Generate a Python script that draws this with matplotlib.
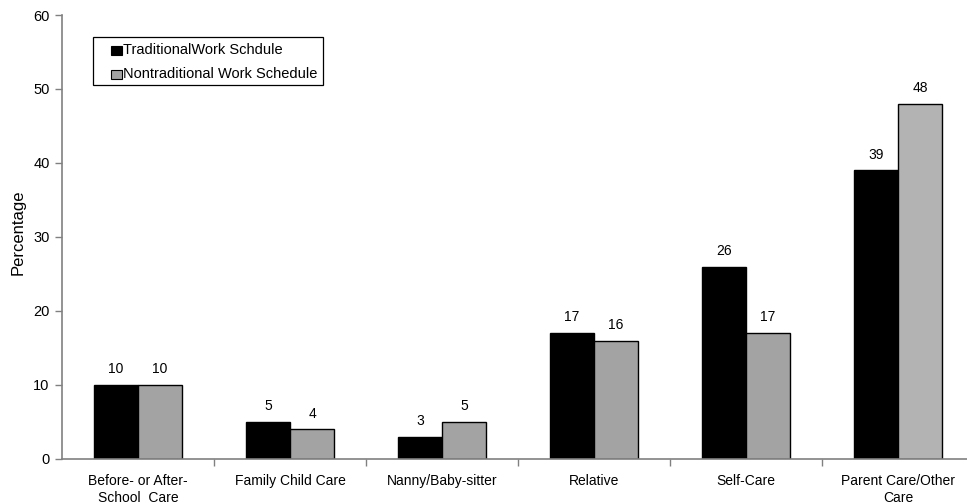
import matplotlib
matplotlib.use("Agg")
import matplotlib.pyplot as plt
import numpy as np
from matplotlib.patches import Rectangle

plt.rcParams['font.family'] = ['Liberation Sans', 'DejaVu Sans']

categories = ["Before- or After-\nSchool  Care", "Family Child Care", "Nanny/Baby-sitter",
              "Relative", "Self-Care", "Parent Care/Other\nCare"]
traditional = [10, 5, 3, 17, 26, 39]
nontraditional = [10, 4, 5, 16, 17, 48]
series_names = ["TraditionalWork Schdule", "Nontraditional Work Schedule"]
y_ticks = [0, 10, 20, 30, 40, 50, 60]

trad_color = "black"
nontrad_colors = ["#a3a3a3"] * 5 + ["#b3b3b3"]

W, H = 967, 504
fig = plt.figure(figsize=(W / 100, H / 100), dpi=100)
ax = fig.add_axes([62 / W, 45 / H, 912 / W, 444 / H])


def fig_xy(px, py):
    """Pixel position measured from the top-left corner -> figure fraction."""
    return px / W, 1 - py / H


x = np.arange(len(categories))
w = 0.29
ax.bar(x - w / 2, traditional, width=w, color=trad_color, edgecolor="black", linewidth=1)
ax.bar(x + w / 2, nontraditional, width=w, color=nontrad_colors, edgecolor="black", linewidth=1)

for xi, v in zip(x - w / 2, traditional):
    ax.text(xi, v + 1.2, str(v), ha="center", va="bottom", fontsize=10)
for xi, v in zip(x + w / 2, nontraditional):
    ax.text(xi, v + 1.2, str(v), ha="center", va="bottom", fontsize=10)

ax.set_xlim(-0.5, len(categories) - 0.5)
ax.set_ylim(0, 60)
ax.set_yticks(y_ticks)
ax.tick_params(axis="y", direction="out", length=5, width=1, color="#808080", labelsize=10.5, pad=4)

ax.set_xticks(x)
ax.set_xticklabels(categories, fontsize=10, linespacing=1.25)
ax.tick_params(axis="x", length=0, pad=11)
ax.set_xticks(np.arange(0.5, len(categories) - 0.5, 1), minor=True)
ax.tick_params(axis="x", which="minor", direction="out", length=5, width=1, color="#808080")

for side in ["top", "right"]:
    ax.spines[side].set_visible(False)
for side in ["left", "bottom"]:
    ax.spines[side].set_color("#808080")
    ax.spines[side].set_linewidth(1.2)

# y-axis title
fig.text(*fig_xy(18, 232), "Percentage", rotation=90, ha="center", va="center", fontsize=12)

# legend box with square swatches
bx0, by0, bx1, by1 = fig_xy(93, 85) + fig_xy(323, 37)
fig.add_artist(Rectangle((bx0, by0), bx1 - bx0, by1 - by0, transform=fig.transFigure,
                         facecolor="white", edgecolor="black", linewidth=0.9))
swatch_colors = [trad_color, nontrad_colors[0]]
row_y = [50.5, 74.5]
for name, col, ry in zip(series_names, swatch_colors, row_y):
    sx, sy = fig_xy(110.5, ry + 4.5)
    fig.add_artist(Rectangle((sx, sy), 11 / W, 9 / H, transform=fig.transFigure,
                             facecolor=col, edgecolor="black", linewidth=0.8))
    fig.text(*fig_xy(123, ry), name, ha="left", va="center", fontsize=10.5)

fig.savefig("out.png", dpi=100)
